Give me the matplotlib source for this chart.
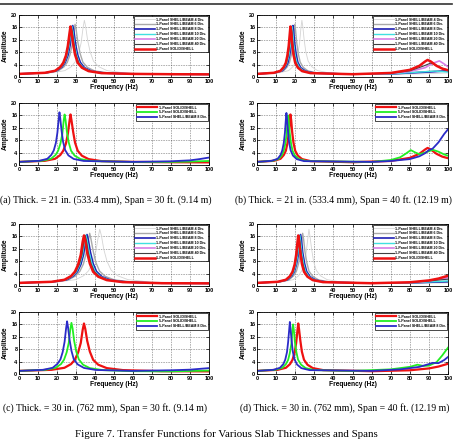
import matplotlib
matplotlib.use('Agg')
import matplotlib.pyplot as plt
from matplotlib.lines import Line2D

# ---------------- DATA ----------------
X_TICKS = [0, 10, 20, 30, 40, 50, 60, 70, 80, 90, 100]
Y_TICKS = [0, 4, 8, 12, 16, 20]

TOP_LABELS = ["1-Panel SHELL/BEAM 4 Div.", "1-Panel SHELL/BEAM 6 Div.",
              "1-Panel SHELL/BEAM 8 Div.", "1-Panel SHELL/BEAM 10 Div.",
              "1-Panel SHELL/BEAM 20 Div.", "1-Panel SHELL/BEAM 40 Div.",
              "1-Panel SOLID/SHELL"]
BOT_LABELS = ["1-Panel SOLID/SHELL", "5-Panel SOLID/SHELL", "5-Panel SHELL/BEAM 8 Div."]

CAPTIONS = ["(a) Thick. = 21 in. (533.4 mm), Span = 30 ft. (9.14 m)",
            "(b) Thick. = 21 in. (533.4 mm), Span = 40 ft. (12.19 m)",
            "(c) Thick. = 30 in. (762 mm), Span = 30 ft. (9.14 m)",
            "(d) Thick. = 30 in. (762 mm), Span = 40 ft. (12.19 m)"]
FIG_TITLE = "Figure 7. Transfer Functions for Various Slab Thicknesses and Spans"

# amplitude readings around each resonance (rising flank, peak, falling flank)
PK_160 = [1.0, 1.35, 2.0, 3.15, 4.55, 6.8, 9.8, 13.9, 16.0, 14.2, 10.5, 7.1, 4.6, 3.0, 1.9, 1.25]
PK_163 = [1.0, 1.35, 2.0, 3.2, 4.6, 6.9, 10.0, 14.2, 16.3, 14.5, 10.7, 7.2, 4.6, 3.0, 1.9, 1.25]
PK_164 = [1.0, 1.35, 2.0, 3.2, 4.6, 6.9, 10.0, 14.3, 16.4, 14.6, 10.7, 7.2, 4.6, 3.0, 1.9, 1.25]
PK_165 = [1.0, 1.35, 2.0, 3.2, 4.6, 7.0, 10.1, 14.4, 16.5, 14.7, 10.8, 7.3, 4.7, 3.0, 1.9, 1.25]
PK_166 = [1.0, 1.35, 2.0, 3.2, 4.65, 7.0, 10.2, 14.5, 16.6, 14.8, 10.9, 7.3, 4.7, 3.0, 1.9, 1.25]
PK_168 = [1.0, 1.35, 2.0, 3.2, 4.65, 7.05, 10.3, 14.6, 16.8, 14.9, 11.0, 7.4, 4.75, 3.05, 1.9, 1.25]
PK_170 = [1.0, 1.35, 2.0, 3.25, 4.7, 7.1, 10.4, 14.8, 17.0, 15.1, 11.1, 7.5, 4.8, 3.1, 1.95, 1.3]
PK_183 = [1.0, 1.37, 2.05, 3.3, 4.9, 7.5, 11.0, 15.8, 18.3, 16.2, 11.9, 8.0, 5.1, 3.3, 2.05, 1.35]

# ---- (a) top: 21 in, 30 ft ----
a_top_4_f = [0, 17.2, 24.1, 27.5, 29.6, 31.3, 32.7, 33.7, 34.4, 35.1, 36.1, 37.5, 39.2, 42.0, 46.4, 55.0, 70, 100]
a_top_4_a = PK_183 + [1.0, 0.85]
a_top_6_f = [0, 14.8, 20.7, 23.6, 25.4, 26.8, 28.0, 28.9, 29.5, 30.1, 31.0, 32.2, 33.6, 36.0, 39.8, 47.2, 60, 80, 100]
a_top_6_a = PK_170 + [1.0, 0.9, 0.85]
a_top_8_f = [0, 14.2, 19.8, 22.6, 24.3, 25.8, 26.9, 27.7, 28.3, 28.9, 29.7, 30.8, 32.3, 34.5, 38.2, 45.3, 60, 80, 100]
a_top_8_a = PK_166 + [1.0, 0.9, 0.85]
a_top_10_f = [0, 13.9, 19.5, 22.2, 23.9, 25.3, 26.4, 27.2, 27.8, 28.4, 29.2, 30.3, 31.7, 33.9, 37.5, 44.5, 60, 80, 100]
a_top_10_a = PK_164 + [1.0, 0.9, 0.85]
a_top_20_f = [0, 13.7, 19.1, 21.8, 23.5, 24.8, 25.9, 26.8, 27.3, 27.8, 28.7, 29.8, 31.1, 33.3, 36.9, 43.7, 60, 80, 100]
a_top_20_a = PK_163 + [1.0, 0.9, 0.85]
a_top_40_f = [0, 13.8, 19.3, 22.0, 23.7, 25.0, 26.1, 27.0, 27.5, 28.1, 28.9, 30.0, 31.4, 33.6, 37.1, 44.0, 60, 80, 100]
a_top_40_a = PK_163 + [1.0, 0.9, 0.85]
a_top_ss_f = [0, 13.6, 19.0, 21.7, 23.3, 24.7, 25.7, 26.6, 27.1, 27.6, 28.5, 29.5, 30.9, 33.1, 36.6, 43.4, 60, 80, 100]
a_top_ss_a = PK_163 + [1.0, 0.9, 0.85]

# ---- (a) bottom ----
a_bot_1ss_f = a_top_ss_f
a_bot_1ss_a = a_top_ss_a
a_bot_5ss_f = [0, 12.0, 16.8, 19.2, 20.6, 21.8, 22.8, 23.5, 24.0, 24.5, 25.2, 26.2, 27.4, 29.3, 32.4, 38.4, 60, 80, 90, 100]
a_bot_5ss_a = PK_163 + [1.0, 1.0, 1.1, 1.3]
a_bot_5sb_f = [0, 10.7, 14.9, 17.0, 18.3, 19.4, 20.2, 20.9, 21.3, 21.7, 22.4, 23.2, 24.3, 26.0, 28.8, 34.1, 60, 80, 90, 95, 100]
a_bot_5sb_a = PK_170 + [1.0, 1.2, 1.5, 1.9, 2.4]

# ---- (b) top: 21 in, 40 ft ----
b_top_4_f = [0, 11.8, 16.5, 18.8, 20.2, 21.4, 22.3, 23.0, 23.5, 24.0, 24.7, 25.6, 26.8, 28.7, 31.7, 37.6, 50, 70, 85, 100]
b_top_4_a = PK_183 + [1.0, 0.9, 1.0, 1.3]
b_top_6_f = [0, 9.9, 13.9, 15.8, 17.0, 18.0, 18.8, 19.4, 19.8, 20.2, 20.8, 21.6, 22.6, 24.2, 26.7, 31.7, 50, 70, 80, 90, 100]
b_top_6_a = PK_170 + [0.9, 1.0, 1.3, 1.8, 2.0]
b_top_8_f = [0, 9.4, 13.2, 15.0, 16.2, 17.1, 17.9, 18.4, 18.8, 19.2, 19.7, 20.5, 21.4, 22.9, 25.4, 30.1, 50, 70, 80, 90, 100]
b_top_8_a = PK_166 + [0.9, 1.0, 1.3, 1.6, 2.0]
b_top_10_f = [0, 9.2, 12.8, 14.6, 15.7, 16.7, 17.4, 17.9, 18.3, 18.7, 19.2, 19.9, 20.9, 22.3, 24.7, 29.3, 50, 70, 80, 93, 100]
b_top_10_a = PK_164 + [0.9, 1.0, 1.4, 1.9, 1.6]
b_top_20_f = [0, 8.9, 12.4, 14.2, 15.2, 16.1, 16.8, 17.3, 17.7, 18.1, 18.6, 19.3, 20.2, 21.6, 23.9, 28.3, 50, 70, 80, 88, 92, 95.5, 98, 100]
b_top_20_a = PK_163 + [0.9, 1.2, 1.8, 3.0, 4.4, 5.2, 4.2, 3.3]
b_top_40_f = [0, 9.0, 12.5, 14.3, 15.4, 16.3, 17.0, 17.5, 17.9, 18.3, 18.8, 19.5, 20.4, 21.8, 24.2, 28.6, 50, 70, 80, 87, 91, 94, 97, 100]
b_top_40_a = PK_163 + [0.9, 1.2, 2.0, 3.5, 4.5, 3.8, 2.8, 2.2]
b_top_ss_f = [0, 8.8, 12.3, 14.0, 15.1, 15.9, 16.6, 17.2, 17.5, 17.9, 18.4, 19.1, 20.0, 21.4, 23.6, 28.0, 50, 70, 80, 85, 88, 89.3, 91, 94, 97, 100]
b_top_ss_a = PK_163 + [0.9, 1.3, 2.3, 3.6, 5.0, 5.5, 5.0, 3.6, 2.7, 2.2]

# ---- (b) bottom ----
b_bot_1ss_f = b_top_ss_f
b_bot_1ss_a = b_top_ss_a
b_bot_5ss_f = [0, 8.2, 11.4, 13.0, 14.0, 14.8, 15.5, 16.0, 16.3, 16.6, 17.1, 17.8, 18.6, 19.9, 22.0, 26.1, 60, 70, 75, 78, 80.5, 83, 85, 88, 92, 95, 98, 100]
b_bot_5ss_a = PK_160 + [1.0, 1.6, 2.5, 3.7, 4.8, 4.0, 3.5, 4.0, 4.9, 4.3, 3.4, 3.0]
b_bot_5sb_f = [0, 7.7, 10.8, 12.3, 13.2, 14.0, 14.6, 15.1, 15.4, 15.7, 16.2, 16.8, 17.6, 18.8, 20.8, 24.6, 60, 70, 80, 85, 88, 90, 92, 95, 98, 100]
b_bot_5sb_a = PK_168 + [1.0, 1.3, 1.9, 2.8, 3.8, 4.8, 5.3, 7.3, 10.0, 11.5]

# ---- (c) top: 30 in, 30 ft ----
c_top_4_f = [0, 21.3, 29.8, 34.0, 36.6, 38.7, 40.4, 41.7, 42.5, 43.4, 44.6, 46.3, 48.5, 51.9, 57.4, 68.0, 85, 100]
c_top_4_a = PK_183 + [0.95, 0.85]
c_top_6_f = [0, 18.6, 26.0, 29.8, 32.0, 33.9, 35.3, 36.5, 37.2, 37.9, 39.1, 40.5, 42.4, 45.4, 50.2, 59.5, 75, 100]
c_top_6_a = PK_170 + [0.95, 0.85]
c_top_8_f = [0, 17.9, 25.1, 28.6, 30.8, 32.6, 34.0, 35.1, 35.8, 36.5, 37.6, 39.0, 40.8, 43.7, 48.3, 57.3, 75, 100]
c_top_8_a = PK_166 + [0.9, 0.85]
c_top_10_f = [0, 17.6, 24.6, 28.2, 30.3, 32.0, 33.4, 34.5, 35.2, 35.9, 37.0, 38.4, 40.1, 42.9, 47.5, 56.3, 75, 100]
c_top_10_a = PK_164 + [0.9, 0.85]
c_top_20_f = [0, 17.3, 24.2, 27.6, 29.7, 31.4, 32.8, 33.8, 34.5, 35.2, 36.2, 37.6, 39.3, 42.1, 46.6, 55.2, 75, 100]
c_top_20_a = PK_163 + [0.9, 0.85]
c_top_40_f = [0, 17.4, 24.4, 27.8, 29.9, 31.7, 33.1, 34.1, 34.8, 35.5, 36.5, 37.9, 39.7, 42.5, 47.0, 55.7, 75, 100]
c_top_40_a = PK_163 + [0.9, 0.85]
c_top_ss_f = [0, 17.1, 23.9, 27.4, 29.4, 31.1, 32.5, 33.5, 34.2, 34.9, 35.9, 37.3, 39.0, 41.7, 46.2, 54.7, 75, 100]
c_top_ss_a = PK_163 + [0.9, 0.85]

# ---- (c) bottom ----
c_bot_1ss_f = c_top_ss_f
c_bot_1ss_a = c_top_ss_a
c_bot_5ss_f = [0, 13.8, 19.3, 22.1, 23.7, 25.1, 26.2, 27.0, 27.6, 28.2, 29.0, 30.1, 31.5, 33.7, 37.3, 44.2, 60, 80, 100]
c_bot_5ss_a = PK_165 + [0.9, 0.85, 1.1]
c_bot_5sb_f = [0, 12.7, 17.7, 20.2, 21.8, 23.0, 24.0, 24.8, 25.3, 25.8, 26.6, 27.6, 28.8, 30.9, 34.2, 40.5, 60, 80, 90, 100]
c_bot_5sb_a = PK_170 + [1.0, 1.2, 1.4, 1.9]

# ---- (d) top: 30 in, 40 ft ----
d_top_4_f = [0, 13.6, 19.0, 21.8, 23.4, 24.8, 25.8, 26.7, 27.2, 27.7, 28.6, 29.6, 31.0, 33.2, 36.7, 43.5, 60, 80, 100]
d_top_4_a = PK_183 + [1.0, 0.9, 1.0]
d_top_6_f = [0, 12.0, 16.7, 19.1, 20.6, 21.7, 22.7, 23.4, 23.9, 24.4, 25.1, 26.1, 27.2, 29.2, 32.3, 38.2, 60, 80, 100]
d_top_6_a = PK_170 + [0.9, 1.0, 1.3]
d_top_8_f = [0, 11.4, 16.0, 18.2, 19.6, 20.7, 21.7, 22.3, 22.8, 23.3, 23.9, 24.9, 26.0, 27.8, 30.8, 36.5, 60, 80, 100]
d_top_8_a = PK_166 + [0.9, 1.0, 1.4]
d_top_10_f = [0, 11.2, 15.7, 17.9, 19.3, 20.4, 21.3, 22.0, 22.4, 22.8, 23.5, 24.4, 25.5, 27.3, 30.2, 35.8, 60, 80, 100]
d_top_10_a = PK_164 + [0.9, 1.0, 1.6]
d_top_20_f = [0, 10.9, 15.3, 17.4, 18.7, 19.8, 20.7, 21.4, 21.8, 22.2, 22.9, 23.8, 24.9, 26.6, 29.4, 34.9, 60, 80, 90, 100]
d_top_20_a = PK_163 + [0.9, 1.1, 1.6, 2.7]
d_top_40_f = [0, 11.0, 15.4, 17.6, 18.9, 20.0, 20.9, 21.6, 22.0, 22.4, 23.1, 24.0, 25.1, 26.8, 29.7, 35.2, 60, 80, 100]
d_top_40_a = PK_163 + [0.9, 1.1, 2.2]
d_top_ss_f = [0, 10.8, 15.1, 17.3, 18.6, 19.7, 20.5, 21.2, 21.6, 22.0, 22.7, 23.5, 24.6, 26.4, 29.2, 34.6, 60, 80, 90, 95, 100]
d_top_ss_a = PK_163 + [0.9, 1.2, 1.8, 2.4, 3.3]

# ---- (d) bottom ----
d_bot_1ss_f = d_top_ss_f
d_bot_1ss_a = d_top_ss_a
d_bot_5ss_f = [0, 9.5, 13.2, 15.1, 16.3, 17.2, 18.0, 18.5, 18.9, 19.3, 19.8, 20.6, 21.5, 23.1, 25.5, 30.2, 50, 70, 80, 84, 87, 90, 94, 97, 100]
d_bot_5ss_a = PK_160 + [1.0, 1.5, 2.3, 3.0, 2.6, 2.7, 3.8, 6.0, 8.5]
d_bot_5sb_f = [0, 8.6, 12.0, 13.8, 14.8, 15.7, 16.3, 16.9, 17.2, 17.5, 18.1, 18.7, 19.6, 21.0, 23.2, 27.5, 60, 75, 85, 90, 92, 95, 98, 100]
d_bot_5sb_a = PK_168 + [1.0, 1.5, 2.3, 3.2, 3.6, 3.5, 4.5, 5.5]

# ---------------- STYLE ----------------
TOP_STYLE = [("#d4d4d4", 0.6), ("#a9a9a9", 1.0), ("#1f1fb4", 1.2), ("#3fe0e0", 1.0),
             ("#d67ee6", 1.2), ("#404040", 0.8), ("#ee1111", 1.8)]
BOT_STYLE = [("#ee1111", 1.6), ("#22ee22", 1.3), ("#2b2bc8", 1.3)]

TOP_SETS = [
    [(a_top_4_f, a_top_4_a), (a_top_6_f, a_top_6_a), (a_top_8_f, a_top_8_a), (a_top_10_f, a_top_10_a),
     (a_top_20_f, a_top_20_a), (a_top_40_f, a_top_40_a), (a_top_ss_f, a_top_ss_a)],
    [(b_top_4_f, b_top_4_a), (b_top_6_f, b_top_6_a), (b_top_8_f, b_top_8_a), (b_top_10_f, b_top_10_a),
     (b_top_20_f, b_top_20_a), (b_top_40_f, b_top_40_a), (b_top_ss_f, b_top_ss_a)],
    [(c_top_4_f, c_top_4_a), (c_top_6_f, c_top_6_a), (c_top_8_f, c_top_8_a), (c_top_10_f, c_top_10_a),
     (c_top_20_f, c_top_20_a), (c_top_40_f, c_top_40_a), (c_top_ss_f, c_top_ss_a)],
    [(d_top_4_f, d_top_4_a), (d_top_6_f, d_top_6_a), (d_top_8_f, d_top_8_a), (d_top_10_f, d_top_10_a),
     (d_top_20_f, d_top_20_a), (d_top_40_f, d_top_40_a), (d_top_ss_f, d_top_ss_a)],
]
BOT_SETS = [
    [(a_bot_1ss_f, a_bot_1ss_a), (a_bot_5ss_f, a_bot_5ss_a), (a_bot_5sb_f, a_bot_5sb_a)],
    [(b_bot_1ss_f, b_bot_1ss_a), (b_bot_5ss_f, b_bot_5ss_a), (b_bot_5sb_f, b_bot_5sb_a)],
    [(c_bot_1ss_f, c_bot_1ss_a), (c_bot_5ss_f, c_bot_5ss_a), (c_bot_5sb_f, c_bot_5sb_a)],
    [(d_bot_1ss_f, d_bot_1ss_a), (d_bot_5ss_f, d_bot_5ss_a), (d_bot_5sb_f, d_bot_5sb_a)],
]

W, H = 456, 440
fig = plt.figure(figsize=(W / 100, H / 100), dpi=100)
fig.patch.set_facecolor("white")

SANS = ["Liberation Sans", "DejaVu Sans"]
SERIF = ["Liberation Serif", "DejaVu Serif"]


def add_ax(x0, y0, x1, y1):
    return fig.add_axes([x0 / W, 1 - y1 / H, (x1 - x0) / W, (y1 - y0) / H])


def style(ax):
    ax.set_xlim(0, 100)
    ax.set_ylim(0, 20)
    ax.set_xticks(X_TICKS)
    ax.set_yticks(Y_TICKS)
    ax.grid(True, linestyle=(0, (1, 2)), color="k", linewidth=0.4)
    ax.tick_params(direction="in", length=2, width=0.5, pad=1.2,
                   top=True, right=True, labelsize=4)
    for lab in ax.get_xticklabels() + ax.get_yticklabels():
        lab.set_fontweight("bold")
        lab.set_family(SANS)
    for s in ax.spines.values():
        s.set_linewidth(0.6)
    ax.set_xlabel("Frequency (Hz)", fontsize=4.8, fontweight="bold", family=SANS, labelpad=0.5)
    ax.set_ylabel("Amplitude", fontsize=4.8, fontweight="bold", family=SANS, labelpad=1.5)


def legend(ax):
    leg = ax.legend(loc="upper right", prop={"size": 2.6, "weight": "bold", "family": SANS},
                    handlelength=5.5, labelspacing=0.25, borderpad=0.35, handletextpad=0.5,
                    borderaxespad=0.35, fancybox=False, framealpha=1)
    leg.get_frame().set_edgecolor("k")
    leg.get_frame().set_linewidth(0.5)


COLS = [(19, 209), (257, 448)]
ROW_TOPS = [(15, 103), (224, 312)]
AX_H = 62

for i in range(4):
    cx0, cx1 = COLS[i % 2]
    top_y, bot_y = ROW_TOPS[i // 2]
    ax = add_ax(cx0, top_y, cx1, top_y + AX_H)
    for (f, a), (c, lw), lab in zip(TOP_SETS[i], TOP_STYLE, TOP_LABELS):
        ax.plot(f, a, color=c, lw=lw, label=lab)
    style(ax)
    legend(ax)

    ax2 = add_ax(cx0, bot_y, cx1, bot_y + AX_H)
    for (f, a), (c, lw), lab in zip(BOT_SETS[i], BOT_STYLE, BOT_LABELS):
        ax2.plot(f, a, color=c, lw=lw, label=lab)
    style(ax2)
    legend(ax2)

# captions
fig.text(0 / W, 1 - 200 / H, CAPTIONS[0], fontsize=7, family=SERIF, va="center", ha="left")
fig.text(235 / W, 1 - 200 / H, CAPTIONS[1], fontsize=7, family=SERIF, va="center", ha="left")
fig.text(3 / W, 1 - 408 / H, CAPTIONS[2], fontsize=7, family=SERIF, va="center", ha="left")
fig.text(240 / W, 1 - 408 / H, CAPTIONS[3], fontsize=7, family=SERIF, va="center", ha="left")
fig.text(75 / W, 1 - 434 / H, FIG_TITLE, fontsize=7.8, family=SERIF, va="center", ha="left")

# page header rule
fig.add_artist(Line2D([0, 452 / W], [1 - 4 / H, 1 - 4 / H], color="#333333", lw=1.2))

fig.savefig("out.png", dpi=100, facecolor="white")
